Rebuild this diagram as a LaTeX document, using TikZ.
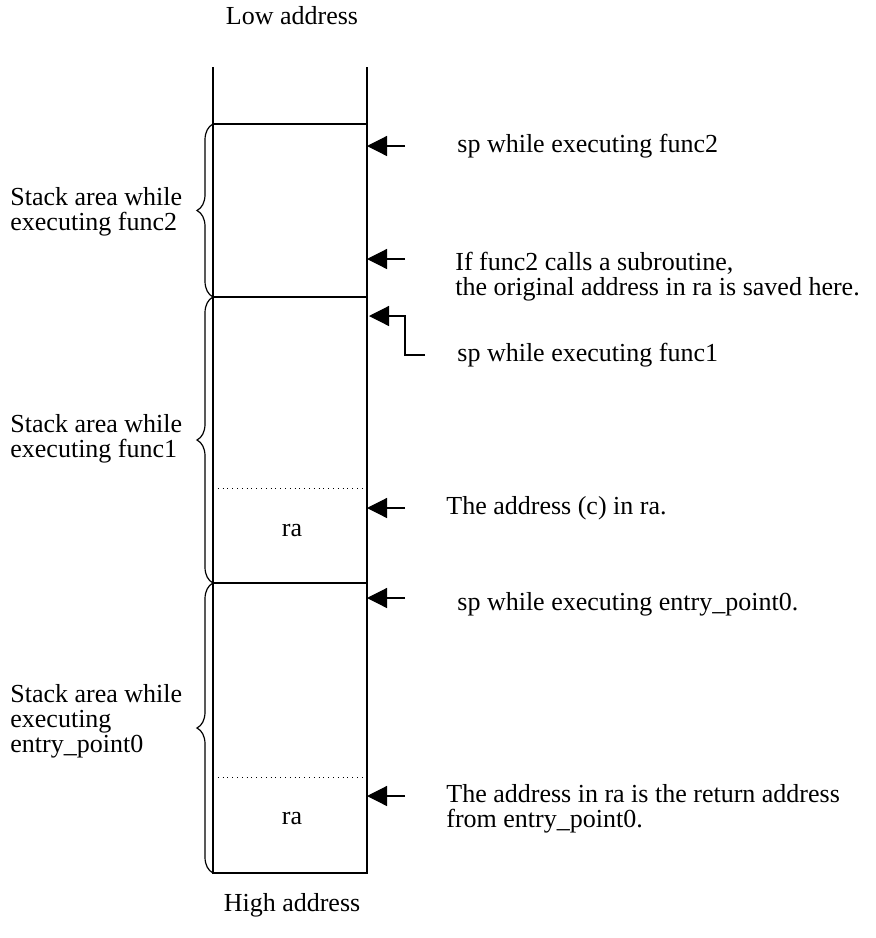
\documentclass[tikz,border=0pt]{standalone}
\usepackage{fontspec}
\setmainfont{Liberation Serif}
\usetikzlibrary{arrows.meta,decorations.pathreplacing}

\tikzset{
  ptr/.style={-{Triangle[length=10pt,width=10pt]}, line width=0.6pt},
  txt/.style={anchor=west, align=left, inner sep=0pt, font=\fontsize{13}{12.5}\selectfont},
  mid/.style={txt, anchor=center, align=center},
  brc/.style={decorate, decoration={brace, amplitude=8pt}, line width=0.6pt},
}

\begin{document}
\begin{tikzpicture}[x=0.5pt,y=-0.5pt]
    \useasboundingbox (0,0) rectangle (876,938);

    % stack column
    \coordinate (colTL) at (213,67);
    \coordinate (colTR) at (367,67);
    \coordinate (colBL) at (213,873);
    \coordinate (colBR) at (367,873);
    \draw[line width=0.7pt] (colTL) -- (colBL) -- (colBR) -- (colTR);
    \draw[line width=0.7pt] (213,124) -- (367,124);
    \draw[line width=0.7pt] (213,297) -- (367,297);
    \draw[line width=0.7pt] (213,583) -- (367,583);
    \draw[dotted] (213,488) -- (367,488);
    \draw[dotted] (213,777) -- (367,777);

    \node[mid] (low)  at (292,16)  {Low address};
    \node[mid] (high) at (292,905) {High address};
    \node[mid] (ra1)  at (292,530) {ra};
    \node[mid] (ra2)  at (292,818) {ra};

    % braces
    \draw[brc] (213,297) -- (213,124);
    \draw[brc] (213,583) -- (213,297);
    \draw[brc] (213,873) -- (213,583);
    \node[txt] (area2) at (10,212) {Stack area while\\executing func2};
    \node[txt] (area1) at (10,439) {Stack area while\\executing func1};
    \node[txt] (area0) at (10,721) {Stack area while\\executing\\entry\_point0};

    % pointers
    \node[txt] (sp2)   at (457,146) {sp while executing func2};
    \node[txt] (sub)   at (455,277) {If func2 calls a subroutine,\\the original address in ra is saved here.};
    \node[txt] (sp1)   at (457,355) {sp while executing func1};
    \node[txt] (addrc) at (446,508) {The address (c) in ra.};
    \node[txt] (sp0)   at (457,604) {sp while executing entry\_point0.};
    \node[txt] (ret)   at (446,809) {The address in ra is the return address\\from entry\_point0.};

    \coordinate (p1) at (405,146);
    \coordinate (p2) at (405,259);
    \coordinate (p3) at (425,355);
    \coordinate (p4) at (405,508);
    \coordinate (p5) at (405,598);
    \coordinate (p6) at (405,796);
    \draw[ptr] (p1) -- (p1 -| colTR);
    \draw[ptr] (p2) -- (p2 -| colTR);
    \draw[ptr] (p3) -- (405,355) -- (405,316) -- (369,316);
    \draw[ptr] (p4) -- (p4 -| colTR);
    \draw[ptr] (p5) -- (p5 -| colTR);
    \draw[ptr] (p6) -- (p6 -| colTR);
\end{tikzpicture}
\end{document}
